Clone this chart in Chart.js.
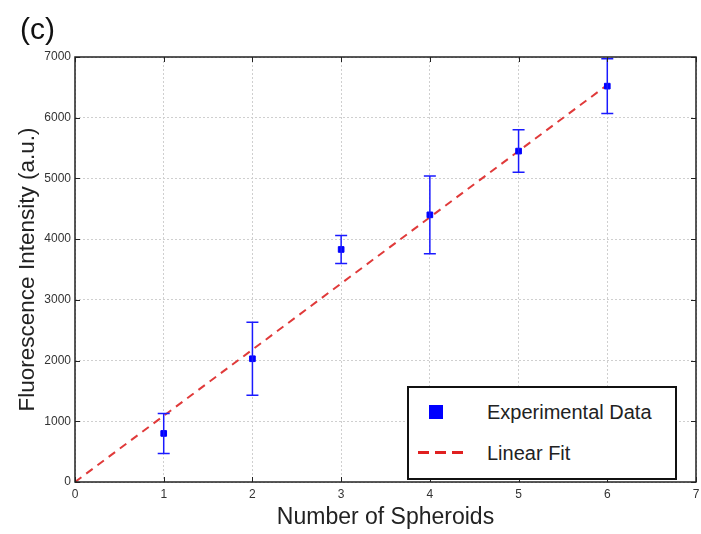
<!DOCTYPE html>
<html>
<head>
<meta charset="utf-8">
<script src="https://cdn.jsdelivr.net/npm/chart.js@4.4.0/dist/chart.umd.min.js"></script>
<style>
  html, body { margin: 0; padding: 0; background: #fff; }
  #wrap { position: relative; width: 701px; height: 534px; overflow: hidden; }
  #panel { position: absolute; left: 20px; top: 12px; font: 30px "Liberation Sans", Arial, sans-serif; color: #111; }
  #legend { position: absolute; left: 407px; top: 386px; width: 266px; height: 90px; border: 2px solid #111; background: #fff; font: 20px "Liberation Sans", Arial, sans-serif; color: #222; }
  .row { position: absolute; left: 0; height: 24px; line-height: 24px; }
  .lbl { position: absolute; left: 78px; white-space: nowrap; }
  .sq { position: absolute; left: 20px; top: 5px; width: 14px; height: 14px; background: #0000ff; }
  .dash { position: absolute; left: 9px; top: 10px; width: 45px; height: 3px;
          background: repeating-linear-gradient(90deg, #e02020 0 11px, transparent 11px 17px); }
</style>
</head>
<body>
<div id="wrap">
  <canvas id="c" width="701" height="534"></canvas>
  <div id="panel">(c)</div>
  <div id="legend">
    <div class="row" style="top:12px"><span class="sq"></span><span class="lbl">Experimental Data</span></div>
    <div class="row" style="top:53px"><span class="dash"></span><span class="lbl">Linear Fit</span></div>
  </div>
</div>
<script>
// ---- data ----
const spheroidCounts = [1, 2, 3, 4, 5, 6];
const intensityMeans = [800, 2030, 3830, 4400, 5450, 6520];
const intensityErrors = [330, 600, 230, 640, 350, 450];
const fitX = [0, 6];
const fitY = [0, 6540];
const xTickValues = [0, 1, 2, 3, 4, 5, 6, 7];
const yTickValues = [0, 1000, 2000, 3000, 4000, 5000, 6000, 7000];

const expPoints = spheroidCounts.map((x, i) => ({ x: x, y: intensityMeans[i], err: intensityErrors[i] }));
const fitPoints = fitX.map((x, i) => ({ x: x, y: fitY[i] }));

const errorBarPlugin = {
  id: 'errorBars',
  afterDatasetsDraw(chart) {
    const ctx = chart.ctx, xs = chart.scales.x, ys = chart.scales.y;
    ctx.save();
    ctx.strokeStyle = '#1a1aff';
    ctx.lineWidth = 1.5;
    expPoints.forEach(p => {
      const px = xs.getPixelForValue(p.x);
      const top = ys.getPixelForValue(p.y + p.err);
      const bot = ys.getPixelForValue(p.y - p.err);
      ctx.beginPath();
      ctx.moveTo(px, top); ctx.lineTo(px, bot);
      ctx.moveTo(px - 6, top); ctx.lineTo(px + 6, top);
      ctx.moveTo(px - 6, bot); ctx.lineTo(px + 6, bot);
      ctx.stroke();
    });
    ctx.restore();
  }
};

const framePlugin = {
  id: 'frame',
  afterDraw(chart) {
    const ctx = chart.ctx, a = chart.chartArea, xs = chart.scales.x, ys = chart.scales.y;
    ctx.save();
    ctx.strokeStyle = '#222';
    ctx.lineWidth = 1.5;
    ctx.strokeRect(a.left, a.top, a.right - a.left, a.bottom - a.top);
    ctx.lineWidth = 1;
    ctx.beginPath();
    xTickValues.forEach(v => {
      const px = Math.round(xs.getPixelForValue(v)) + 0.5;
      ctx.moveTo(px, a.bottom); ctx.lineTo(px, a.bottom - 5);
      ctx.moveTo(px, a.top); ctx.lineTo(px, a.top + 5);
    });
    yTickValues.forEach(v => {
      const py = Math.round(ys.getPixelForValue(v)) + 0.5;
      ctx.moveTo(a.left, py); ctx.lineTo(a.left + 5, py);
      ctx.moveTo(a.right, py); ctx.lineTo(a.right - 5, py);
    });
    ctx.stroke();
    ctx.restore();
  }
};

const tickFont = { family: 'Liberation Sans, Arial', size: 12 };

new Chart(document.getElementById('c'), {
  type: 'scatter',
  data: {
    datasets: [
      {
        label: 'Experimental Data',
        data: expPoints,
        pointStyle: 'rect',
        pointRadius: 4,
        backgroundColor: '#0000ff',
        borderColor: '#0000ff',
        showLine: false,
        order: 1
      },
      {
        label: 'Linear Fit',
        data: fitPoints,
        showLine: true,
        borderColor: '#e03a3a',
        borderWidth: 2,
        borderDash: [8, 6],
        pointRadius: 0,
        order: 2
      }
    ]
  },
  options: {
    responsive: false,
    animation: false,
    layout: { padding: { top: 57, right: 0, left: 0, bottom: 0 } },
    plugins: { legend: { display: false }, tooltip: { enabled: false } },
    scales: {
      x: {
        type: 'linear',
        min: 0, max: 7,
        afterBuildTicks(s) { s.ticks = xTickValues.map(v => ({ value: v })); },
        afterFit(s) { s.height = 52; s.paddingLeft = 0; s.paddingRight = 0; },
        ticks: { font: tickFont, color: '#333', padding: 5, maxRotation: 0, callback: v => String(v) },
        grid: { color: '#cfcfcf', lineWidth: 1, drawTicks: false },
        border: { display: false, dash: [2, 2] },
        title: { display: true, text: 'Number of Spheroids', font: { family: 'Liberation Sans, Arial', size: 23 }, color: '#222', padding: { top: 0, bottom: 3 } }
      },
      y: {
        type: 'linear',
        min: 0, max: 7000,
        afterBuildTicks(s) { s.ticks = yTickValues.map(v => ({ value: v })); },
        afterFit(s) { s.width = 75; s.paddingTop = 0; s.paddingBottom = 0; },
        ticks: { font: tickFont, color: '#333', padding: 4, callback: v => String(v) },
        grid: { color: '#cfcfcf', lineWidth: 1, drawTicks: false },
        border: { display: false, dash: [2, 2] },
        title: { display: true, text: 'Fluorescence Intensity (a.u.)', font: { family: 'Liberation Sans, Arial', size: 22.5 }, color: '#222', padding: { top: 14, bottom: 0 } }
      }
    }
  },
  plugins: [errorBarPlugin, framePlugin]
});
</script>
</body>
</html>
